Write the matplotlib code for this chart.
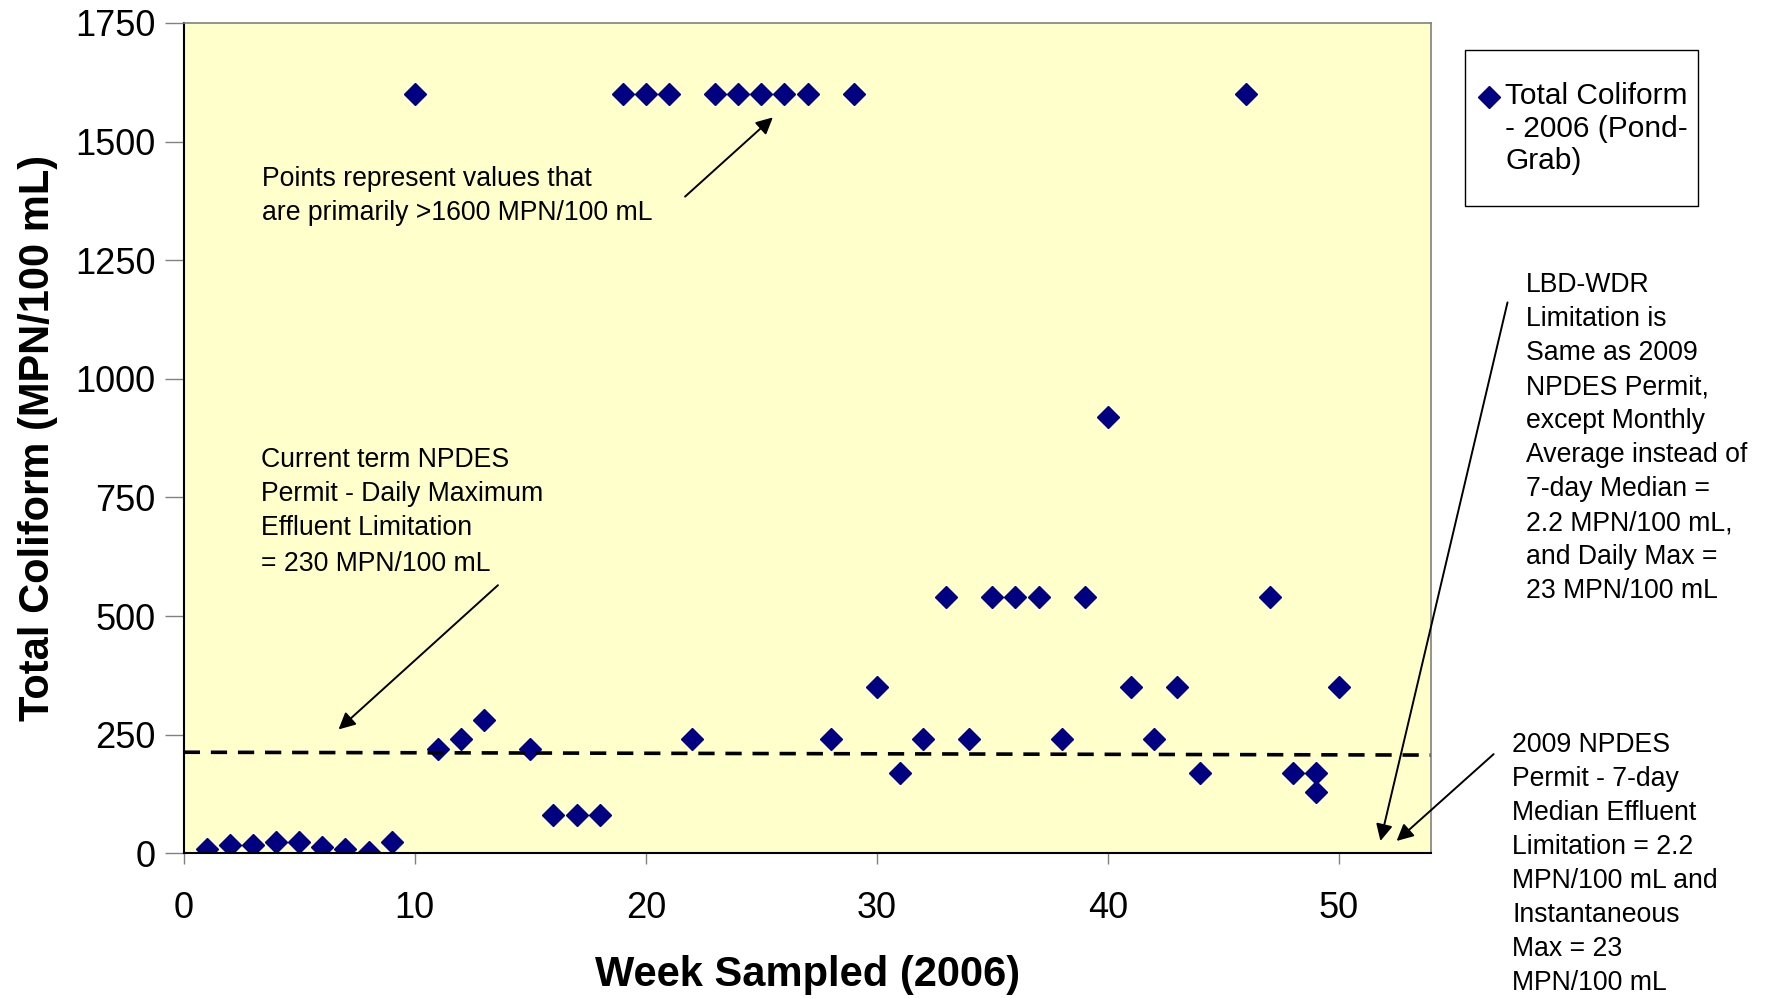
import numpy as np
import matplotlib
matplotlib.use('Agg')
import matplotlib.pyplot as plt
from matplotlib.lines import Line2D
from matplotlib.patches import Rectangle

plt.rcParams['font.family'] = ['Liberation Sans', 'DejaVu Sans']

# week sampled and total coliform (MPN/100 mL)
weeks = [1, 2, 3, 4, 5, 6, 7, 8, 9, 10, 11, 12, 13, 15, 16, 17, 18, 19, 20, 21,
         22, 23, 24, 25, 26, 27, 28, 29, 30, 31, 32, 33, 34, 35, 36, 37, 38, 39,
         40, 41, 42, 43, 44, 46, 47, 48, 49, 49, 50]
coliform = [8, 17, 17, 23, 23, 13, 8, 2, 23, 1600, 220, 240, 280, 220, 80, 80, 80,
            1600, 1600, 1600, 240, 1600, 1600, 1600, 1600, 1600, 240, 1600, 350,
            170, 240, 540, 240, 540, 540, 540, 240, 540, 920, 350, 240, 350, 170,
            1600, 540, 170, 170, 130, 350]

# hand drawn dashed limit line (slightly sloped in the original)
limit_x = [0, 54]
limit_y = [213, 207]

x_ticks = [0, 10, 20, 30, 40, 50]
y_ticks = [0, 250, 500, 750, 1000, 1250, 1500, 1750]

navy = '#000080'

fig = plt.figure(figsize=(17.67, 9.98), dpi=100)
ax = fig.add_axes([0.104, 0.145, 0.706, 0.832])
ax.set_facecolor('#FFFFCC')

ax.plot(weeks, coliform, linestyle='none', marker='D', ms=11, color=navy)
ax.plot(limit_x, limit_y, '--', color='black', lw=2.6, dashes=(4.5, 3))

ax.set_xlim(0, 54)
ax.set_ylim(0, 1750)
ax.set_xticks(x_ticks)
ax.set_yticks(y_ticks)
ax.tick_params(axis='y', direction='out', length=13.5, width=1, color='#808080',
               labelsize=26, pad=7)
ax.tick_params(axis='x', direction='out', length=8, width=1, color='#808080',
               labelsize=26, pad=19)
for s in ['left', 'bottom']:
    ax.spines[s].set_color('black')
    ax.spines[s].set_linewidth(1.5)
for s in ['top', 'right']:
    ax.spines[s].set_color('#808080')
    ax.spines[s].set_linewidth(1.2)

ax.set_xlabel('Week Sampled (2006)', fontsize=30, fontweight='bold')
ax.set_ylabel('Total Coliform (MPN/100 mL)', fontsize=30, fontweight='bold')
ax.xaxis.set_label_coords(0.5, -0.122)
ax.yaxis.set_label_coords(-0.101, 0.5)

# legend box drawn by hand so the marker sits by the first line
fig.add_artist(Rectangle((0.829, 0.794), 0.132, 0.156, transform=fig.transFigure,
                         facecolor='white', edgecolor='black', lw=1.0))
fig.add_artist(Line2D([0.8427], [0.903], transform=fig.transFigure, marker='D',
                      ms=11, color=navy, linestyle='none'))
fig.text(0.852, 0.871, 'Total Coliform\n- 2006 (Pond-\nGrab)', fontsize=21.5,
         va='center', ha='left', linespacing=1.2)

fs = 19.2
ls = 1.4
arrow = dict(arrowstyle='-|>', color='black', lw=1.4, mutation_scale=25,
             shrinkA=0, shrinkB=0)

ax.text(3.4, 1386, 'Points represent values that\nare primarily >1600 MPN/100 mL',
        fontsize=fs, va='center', ha='left', linespacing=ls)
ax.annotate('', xy=(25.5, 1551), xytext=(21.7, 1384), arrowprops=arrow)

ax.text(3.35, 758, 'Current term NPDES\nPermit - Daily Maximum\nEffluent Limitation',
        fontsize=fs, va='center', ha='left', linespacing=ls)
ax.text(3.35, 610, '= 230 MPN/100 mL', fontsize=fs, va='center', ha='left')
ax.annotate('', xy=(6.7, 261), xytext=(13.6, 565), arrowprops=arrow)

ax.text(58.1, 875, 'LBD-WDR\nLimitation is\nSame as 2009\nNPDES Permit,\n'
        'except Monthly\nAverage instead of\n7-day Median =\n2.2 MPN/100 mL,\n'
        'and Daily Max =\n23 MPN/100 mL',
        fontsize=fs, va='center', ha='left', linespacing=ls, clip_on=False)
ax.annotate('', xy=(51.8, 26), xytext=(57.3, 1161), arrowprops=arrow,
            annotation_clip=False)

ax.text(57.5, -23, '2009 NPDES\nPermit - 7-day\nMedian Effluent\nLimitation = 2.2\n'
        'MPN/100 mL and\nInstantaneous\nMax = 23\nMPN/100 mL',
        fontsize=fs, va='center', ha='left', linespacing=ls, clip_on=False)
ax.annotate('', xy=(52.5, 26), xytext=(56.7, 209), arrowprops=arrow,
            annotation_clip=False)

fig.savefig('out.png', dpi=100)
